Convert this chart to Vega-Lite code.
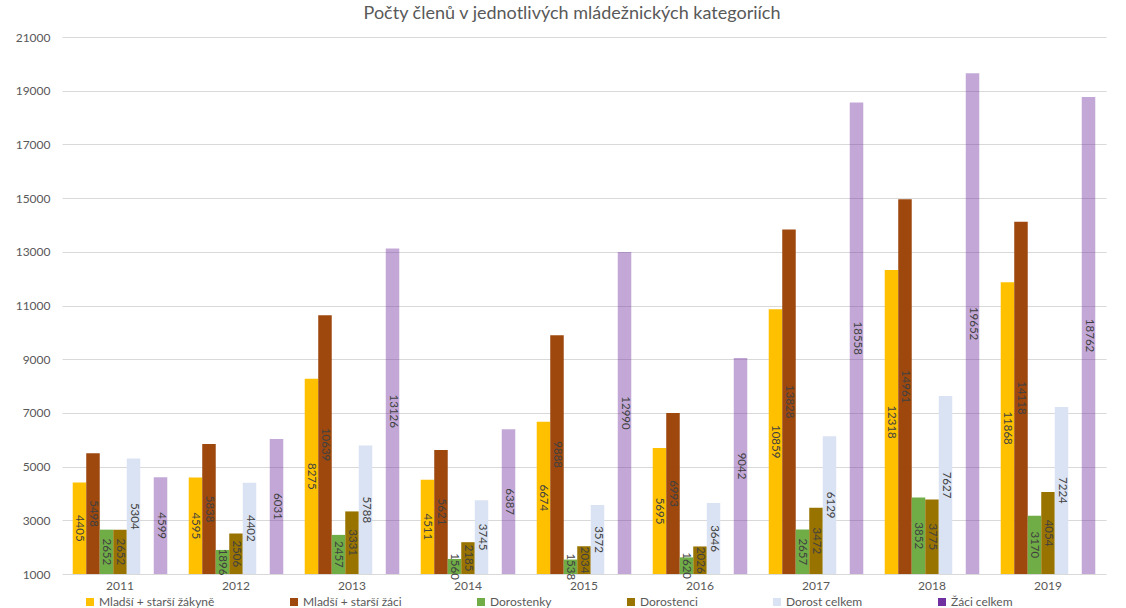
{
  "$schema": "https://vega.github.io/schema/vega-lite/v6.json",
  "autosize": "none",
  "width": 1044,
  "height": 537,
  "padding": {"left": 62, "top": 37, "right": 20, "bottom": 34},
  "background": "white",
  "title": {"text": "Počty členů v jednotlivých mládežnických kategoriích", "fontSize": 18, "fontWeight": "normal", "color": "#595959", "offset": 8, "dx": -12, "font": "Lato"},
  "config": {"view": {"stroke": null}, "font": "Lato"},
  "data": {"values": [
    {"year": "2011", "series": "Mladší + starší žákyně", "value": 4405},
    {"year": "2011", "series": "Mladší + starší žáci", "value": 5498},
    {"year": "2011", "series": "Dorostenky", "value": 2652},
    {"year": "2011", "series": "Dorostenci", "value": 2652},
    {"year": "2011", "series": "Dorost celkem", "value": 5304},
    {"year": "2011", "series": "Žáci celkem", "value": 4599},
    {"year": "2012", "series": "Mladší + starší žákyně", "value": 4595},
    {"year": "2012", "series": "Mladší + starší žáci", "value": 5838},
    {"year": "2012", "series": "Dorostenky", "value": 1896},
    {"year": "2012", "series": "Dorostenci", "value": 2506},
    {"year": "2012", "series": "Dorost celkem", "value": 4402},
    {"year": "2012", "series": "Žáci celkem", "value": 6031},
    {"year": "2013", "series": "Mladší + starší žákyně", "value": 8275},
    {"year": "2013", "series": "Mladší + starší žáci", "value": 10639},
    {"year": "2013", "series": "Dorostenky", "value": 2457},
    {"year": "2013", "series": "Dorostenci", "value": 3331},
    {"year": "2013", "series": "Dorost celkem", "value": 5788},
    {"year": "2013", "series": "Žáci celkem", "value": 13126},
    {"year": "2014", "series": "Mladší + starší žákyně", "value": 4511},
    {"year": "2014", "series": "Mladší + starší žáci", "value": 5621},
    {"year": "2014", "series": "Dorostenky", "value": 1560},
    {"year": "2014", "series": "Dorostenci", "value": 2185},
    {"year": "2014", "series": "Dorost celkem", "value": 3745},
    {"year": "2014", "series": "Žáci celkem", "value": 6387},
    {"year": "2015", "series": "Mladší + starší žákyně", "value": 6674},
    {"year": "2015", "series": "Mladší + starší žáci", "value": 9888},
    {"year": "2015", "series": "Dorostenky", "value": 1538},
    {"year": "2015", "series": "Dorostenci", "value": 2034},
    {"year": "2015", "series": "Dorost celkem", "value": 3572},
    {"year": "2015", "series": "Žáci celkem", "value": 12990},
    {"year": "2016", "series": "Mladší + starší žákyně", "value": 5695},
    {"year": "2016", "series": "Mladší + starší žáci", "value": 6993},
    {"year": "2016", "series": "Dorostenky", "value": 1620},
    {"year": "2016", "series": "Dorostenci", "value": 2026},
    {"year": "2016", "series": "Dorost celkem", "value": 3646},
    {"year": "2016", "series": "Žáci celkem", "value": 9042},
    {"year": "2017", "series": "Mladší + starší žákyně", "value": 10859},
    {"year": "2017", "series": "Mladší + starší žáci", "value": 13828},
    {"year": "2017", "series": "Dorostenky", "value": 2657},
    {"year": "2017", "series": "Dorostenci", "value": 3472},
    {"year": "2017", "series": "Dorost celkem", "value": 6129},
    {"year": "2017", "series": "Žáci celkem", "value": 18558},
    {"year": "2018", "series": "Mladší + starší žákyně", "value": 12318},
    {"year": "2018", "series": "Mladší + starší žáci", "value": 14961},
    {"year": "2018", "series": "Dorostenky", "value": 3852},
    {"year": "2018", "series": "Dorostenci", "value": 3775},
    {"year": "2018", "series": "Dorost celkem", "value": 7627},
    {"year": "2018", "series": "Žáci celkem", "value": 19652},
    {"year": "2019", "series": "Mladší + starší žákyně", "value": 11868},
    {"year": "2019", "series": "Mladší + starší žáci", "value": 14118},
    {"year": "2019", "series": "Dorostenky", "value": 3170},
    {"year": "2019", "series": "Dorostenci", "value": 4054},
    {"year": "2019", "series": "Dorost celkem", "value": 7224},
    {"year": "2019", "series": "Žáci celkem", "value": 18762}
  ]},
  "encoding": {
    "x": {"field": "year", "type": "nominal", "sort": null,
      "scale": {"paddingInner": 0.185, "paddingOuter": 0.0925},
      "axis": {"title": null, "labelAngle": 0, "ticks": false, "domain": false, "labelPadding": 6, "labelFontSize": 12, "labelColor": "#595959"}},
    "xOffset": {"field": "series", "type": "nominal",
      "scale": {"domain": ["Mladší + starší žákyně", "Mladší + starší žáci", "Dorostenky", "Dorostenci", "Dorost celkem", "_gap", "Žáci celkem"], "paddingInner": 0, "paddingOuter": 0}}
  },
  "layer": [
    {
      "mark": {"type": "bar"},
      "encoding": {
        "y": {"field": "value", "type": "quantitative",
          "scale": {"domain": [1000, 21000], "zero": false, "nice": false},
          "axis": {"title": null, "values": [1000, 3000, 5000, 7000, 9000, 11000, 13000, 15000, 17000, 19000, 21000], "format": "d", "grid": true, "gridColor": "#D9D9D9", "gridWidth": 1, "domain": false, "ticks": false, "labelPadding": 12, "labelFontSize": 12, "labelColor": "#595959"}},
        "y2": {"datum": 1000},
        "color": {"field": "series", "type": "nominal",
          "scale": {"domain": ["Mladší + starší žákyně", "Mladší + starší žáci", "Dorostenky", "Dorostenci", "Dorost celkem", "Žáci celkem"],
                    "range": ["#FFC000", "#9E480E", "#70AD47", "#997300", "#DAE3F3", "#7030A0"]},
          "legend": {"orient": "none", "legendX": 22, "legendY": 559, "direction": "horizontal", "title": null, "symbolType": "square", "symbolSize": 64, "symbolStrokeWidth": 0, "labelFontSize": 12, "labelColor": "#595959", "columnPadding": 73, "labelOffset": 3}},
        "opacity": {"condition": {"test": "datum.series === 'Žáci celkem'", "value": 0.42}, "value": 1}
      }
    },
    {
      "mark": {"type": "text", "angle": 90, "fontSize": 11.5, "color": "#404040", "baseline": "middle", "align": "center"},
      "encoding": {
        "y": {"field": "value", "type": "quantitative", "scale": {"domain": [1000, 41000], "zero": false, "nice": false}, "axis": null},
        "text": {"field": "value", "type": "quantitative", "format": "d"}
      }
    }
  ],
  "resolve": {"scale": {"y": "independent"}}
}
